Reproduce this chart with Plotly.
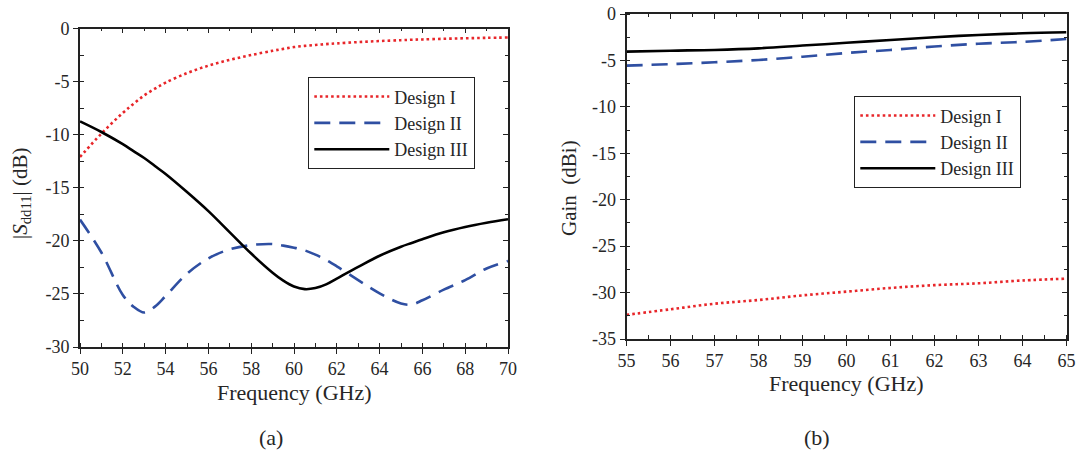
import plotly.graph_objects as go

# ---- Data (a): |Sdd11| (dB) vs frequency (GHz)
freq_a = [50, 51, 52, 52.5, 53, 53.5, 54, 55, 56, 57, 58, 59, 59.5, 60, 60.5, 61, 61.5, 62, 63, 64, 65, 65.5, 66, 67, 68, 69, 70]
s_d1 = [-12.1, -9.9, -7.95, -7.1, -6.3, -5.67, -5.1, -4.2, -3.5, -2.95, -2.5, -2.1, -1.92, -1.75, -1.64, -1.55, -1.47, -1.4, -1.28, -1.18, -1.1, -1.06, -1.03, -0.97, -0.92, -0.88, -0.85]
s_d2 = [-18.0, -21.1, -25.1, -26.2, -26.75, -26.2, -25.2, -23.1, -21.65, -20.8, -20.4, -20.3, -20.45, -20.65, -20.9, -21.3, -21.8, -22.4, -23.7, -24.95, -25.9, -26.0, -25.6, -24.6, -23.7, -22.6, -21.9]
s_d3 = [-8.75, -9.75, -10.9, -11.55, -12.2, -12.95, -13.7, -15.4, -17.2, -19.2, -21.2, -23.0, -23.75, -24.3, -24.55, -24.45, -24.1, -23.55, -22.45, -21.4, -20.55, -20.2, -19.85, -19.2, -18.7, -18.3, -17.97]

# ---- Data (b): Gain (dBi) vs frequency (GHz)
freq_b = [55, 56, 57, 58, 59, 60, 61, 62, 63, 64, 65]
g_d1 = [-32.4, -31.8, -31.2, -30.8, -30.3, -29.9, -29.5, -29.2, -29.0, -28.7, -28.5]
g_d2 = [-5.56, -5.4, -5.2, -4.95, -4.6, -4.2, -3.87, -3.5, -3.2, -3.0, -2.7]
g_d3 = [-4.05, -3.95, -3.87, -3.7, -3.4, -3.1, -2.8, -2.5, -2.26, -2.08, -1.97]

# ---- Tick labels
xticks_a = [50, 52, 54, 56, 58, 60, 62, 64, 66, 68, 70]
yticks_a = [0, -5, -10, -15, -20, -25, -30]
xticks_b = [55, 56, 57, 58, 59, 60, 61, 62, 63, 64, 65]
yticks_b = [0, -5, -10, -15, -20, -25, -30, -35]

names = ["Design I", "Design II", "Design III"]
colors = ["#e8262a", "#2f4fa2", "#000000"]

FONT = "Liberation Serif"
TXT = "#262626"
W, H = 1080, 457

fig = go.Figure()

def add_set(x, ys, xa, ya, legend):
    dashes = ["2.6px,3px", "16px,9px", "solid"]
    for name, y, c, d in zip(names, ys, colors, dashes):
        fig.add_trace(go.Scatter(
            x=x, y=y, name=name, mode="lines", xaxis=xa, yaxis=ya,
            line=dict(color=c, width=2.6, dash=d, shape="spline", smoothing=1.0),
            legend=legend,
        ))

add_set(freq_a, [s_d1, s_d2, s_d3], "x", "y", "legend")
add_set(freq_b, [g_d1, g_d2, g_d3], "x2", "y2", "legend2")

def px(a):
    return a / W

def py(a):
    return (H - a) / H

A_X = [px(80), px(508)]
A_Y = [py(347), py(28.5)]
B_X = [px(626.5), px(1066.5)]
B_Y = [py(339), py(14)]

tickfont = dict(family=FONT, size=18, color=TXT)
LC = "#222222"

def main_axis(domain, rng, ticks, minor_dtick, anchor):
    return dict(
        domain=domain, range=rng, anchor=anchor, automargin=False,
        tickmode="array", tickvals=ticks, ticktext=[str(t) for t in ticks],
        ticklabeloverflow="allow",
        showgrid=False, zeroline=False, showline=True, linecolor=LC, linewidth=1.6,
        ticks="outside", ticklen=5, tickwidth=1.3, tickcolor=LC,
        minor=dict(tick0=rng[0], dtick=minor_dtick, ticks="inside", ticklen=4, tickwidth=1.2, tickcolor=LC, showgrid=False),
        tickfont=tickfont, fixedrange=True,
    )

def mirror_axis(domain, rng, ticks, minor_dtick, overlay, side, anchor):
    return dict(
        domain=domain, range=rng, overlaying=overlay, side=side, anchor=anchor, automargin=False,
        tickmode="array", tickvals=ticks,
        showgrid=False, zeroline=False, showline=True, linecolor=LC, linewidth=1.6,
        ticks="inside", ticklen=5, tickwidth=1.3, tickcolor=LC,
        minor=dict(tick0=rng[0], dtick=minor_dtick, ticks="inside", ticklen=3, tickwidth=1.2, tickcolor=LC, showgrid=False),
        showticklabels=False, fixedrange=True,
    )

legend_style = dict(
    xanchor="left", yanchor="top",
    bgcolor="white", bordercolor=LC, borderwidth=1.3,
    font=dict(family=FONT, size=18, color=TXT), itemwidth=75,
    tracegroupgap=0,
)

fig.update_layout(
    width=W, height=H, margin=dict(l=0, r=0, t=0, b=0, autoexpand=False),
    paper_bgcolor="white", plot_bgcolor="white",
    font=dict(family=FONT, color=TXT),
    xaxis=main_axis(A_X, [50, 70], xticks_a, 1, "y"),
    yaxis=main_axis(A_Y, [-30, 0], yticks_a, 2.5, "x"),
    xaxis2=main_axis(B_X, [55, 65], xticks_b, 0.5, "y2"),
    yaxis2=main_axis(B_Y, [-35, 0], yticks_b, 2.5, "x2"),
    xaxis3=mirror_axis(A_X, [50, 70], xticks_a, 1, "x", "top", "y"),
    yaxis3=mirror_axis(A_Y, [-30, 0], yticks_a, 2.5, "y", "right", "x"),
    xaxis4=mirror_axis(B_X, [55, 65], xticks_b, 0.5, "x2", "top", "y2"),
    yaxis4=mirror_axis(B_Y, [-35, 0], yticks_b, 2.5, "y2", "right", "x2"),
    legend=dict(legend_style, x=px(308), y=py(77)),
    legend2=dict(legend_style, x=px(854), y=py(96)),
    showlegend=True,
)

fig.add_trace(go.Scatter(x=[None], y=[None], xaxis="x3", yaxis="y3", showlegend=False, hoverinfo="skip"))
fig.add_trace(go.Scatter(x=[None], y=[None], xaxis="x4", yaxis="y4", showlegend=False, hoverinfo="skip"))

def ann(text, x, y, size, angle=0):
    fig.add_annotation(text=text, x=px(x), y=py(y), xref="paper", yref="paper",
                       showarrow=False, font=dict(family=FONT, size=size, color=TXT), textangle=angle,
                       xanchor="center", yanchor="middle")

ann("Frequency (GHz)", (80 + 508) / 2, 392, 22)
ann("Frequency (GHz)", (626.5 + 1066.5) / 2, 383, 22)
ann("|<i>S</i><sub>dd11</sub>| (dB)", 21, 193, 21, -90)
ann("Gain  (dBi)", 569, 188, 21, -90)
ann("(a)", 271, 437, 22)
ann("(b)", 817, 437, 22)

# remove the browser's default 8px page margin so the figure fills the window
fig.write_html("out.html", config={"displayModeBar": False},
               post_script="document.body.style.margin='0';document.body.style.overflow='hidden';")
